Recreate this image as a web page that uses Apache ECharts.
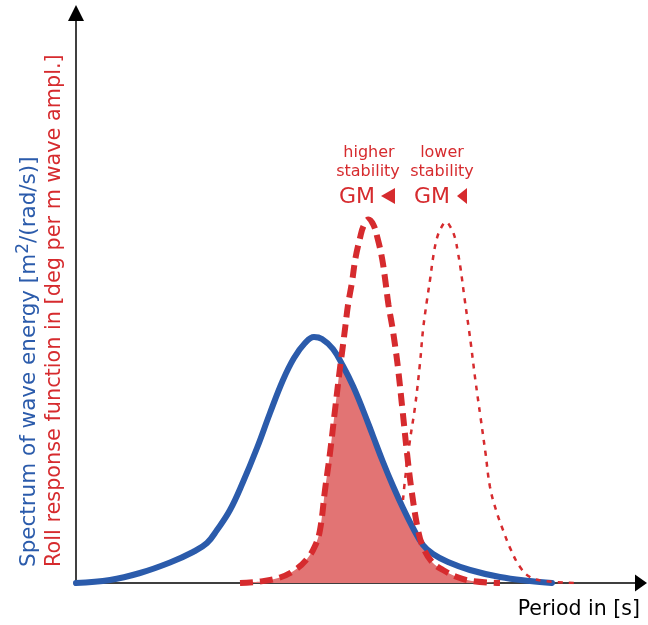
<!DOCTYPE html>
<html>
<head>
<meta charset="utf-8">
<script src="https://cdn.jsdelivr.net/npm/echarts@6/dist/echarts.min.js"></script>
<style>
  html, body { margin: 0; padding: 0; background: #fff; }
  #main { width: 648px; height: 625px; }
</style>
</head>
<body>
<div id="main"></div>
<script type="text/javascript">

	// wave energy spectrum (blue), [period, value]
	var waveSpectrum = [
		[0, 0], [6.8, 0.6], [12.8, 2], [18.8, 4.1], [23.4, 6.2], [26.2, 8],
		[28.2, 10.6], [30.8, 14.6], [33.4, 20.2], [36.2, 27], [38.8, 34],
		[41.4, 40.6], [43.6, 45], [45.8, 48], [47.6, 49.2], [49.2, 48.8],
		[51.4, 46.8], [53.4, 43.4], [55.4, 39.4], [57.4, 34.6], [59.4, 29.4],
		[61.4, 24.2], [63.4, 19.4], [65.4, 15], [67.4, 11], [69.4, 7.6],
		[71.4, 5.8], [74.4, 4.2], [78.8, 2.6], [84.8, 1.2], [90.8, 0.4], [95.2, 0]
	];

	// roll response, higher stability GM (dashed)
	var rollHigh = [
		[32.8, 0], [36.8, 0.3], [40.8, 1.1], [43.8, 2.6], [46.2, 4.8], [47.8, 7.4],
		[48.8, 10.6], [49.8, 18.6], [50.8, 26], [51.8, 34.6], [52.8, 43],
		[53.4, 47.6], [53.9, 51.6], [54.4, 55.6], [55.2, 60.2], [55.9, 65],
		[56.8, 69], [57.5, 71.4], [58.5, 72.7], [59.5, 71.6], [60.3, 69],
		[61.2, 65], [61.9, 60.2], [62.5, 55.6], [63.2, 51.6], [63.8, 47.6],
		[64.4, 43], [65.3, 34.6], [66.2, 26], [67.1, 18.6], [68.4, 10.6],
		[69.4, 7.2], [71.2, 4.2], [73.4, 2.6], [76.2, 1.2], [79.2, 0.4], [84.8, 0]
	];

	// roll response, lower stability GM (dotted)
	var rollLow = [
		[65.4, 16.6], [65.8, 20.6], [66.8, 28.6], [67.8, 35.2], [68.8, 44], [69.4, 50.6],
		[70.2, 56.6], [70.8, 60.6], [71.5, 65.6], [72.2, 69], [73, 71], [74, 72.2],
		[75, 71], [75.8, 69], [76.4, 66], [76.9, 63], [77.7, 57], [78.6, 50.6],
		[79, 47.6], [79.9, 40.4], [80.9, 33.2], [81.9, 26], [82.8, 19.2], [84, 14.6],
		[85.4, 10.6], [87, 6.6], [88.8, 3.2], [90.8, 1.2], [93.8, 0.4], [100.4, 0]
	];

	// overlap of spectrum and response (shaded)
	var overlap = [
		[32.8, 0], [36.8, 0.3], [40.8, 1.1], [43.8, 2.6], [46.2, 4.8], [47.8, 7.4],
		[48.8, 10.6], [49.8, 18.6], [50.8, 26], [51.8, 34.6], [52.8, 43], [53.2, 44.1],
		[55.4, 39.4], [57.4, 34.6], [59.4, 29.4], [61.4, 24.2], [63.4, 19.4],
		[65.4, 15], [67.4, 11], [69, 8], [71.2, 4.2], [73.4, 2.6], [76.2, 1.2],
		[79.2, 0.4], [84.8, 0]
	];

	var blue = '#2b5bab';
	var red = '#d62b2e';
	var font = '"DejaVu Sans", Verdana, sans-serif';

	var chart = echarts.init(document.getElementById('main'));
	chart.setOption({
		animation: false,
		grid: { left: 76, right: 7, top: 13, bottom: 42 },
		xAxis: {
			type: 'value', min: 0, max: 113,
			axisLine: { show: true, onZero: false, symbol: ['none', 'triangle'], symbolSize: [17, 12],
				lineStyle: { color: '#000', width: 1.5 } },
			axisTick: { show: false }, axisLabel: { show: false }, splitLine: { show: false }
		},
		yAxis: {
			type: 'value', min: 0, max: 114,
			axisLine: { show: true, onZero: false, symbol: ['none', 'triangle'], symbolSize: [16, 16],
				lineStyle: { color: '#000', width: 1.5 } },
			axisTick: { show: false }, axisLabel: { show: false }, splitLine: { show: false }
		},
		series: [
			{
				name: 'overlap', type: 'line', data: overlap, smooth: 0.3, symbol: 'none',
				lineStyle: { width: 0 }, areaStyle: { color: '#e27474', opacity: 1 }, z: 1
			},
			{
				name: 'spectrum', type: 'line', data: waveSpectrum, smooth: 0.4, symbol: 'none',
				lineStyle: { color: blue, width: 6, cap: 'round' }, z: 2
			},
			{
				name: 'lower GM', type: 'line', data: rollLow, smooth: 0.4, symbol: 'none',
				lineStyle: { color: red, width: 2.5, type: [5, 6] }, z: 3
			},
			{
				name: 'higher GM', type: 'line', data: rollHigh, smooth: 0.4, symbol: 'none',
				lineStyle: { color: red, width: 6, type: [13, 7] }, z: 4
			}
		],
		graphic: [
			{
				type: 'text', x: 29, y: 567, rotation: Math.PI / 2,
				style: {
					text: 'Spectrum of wave energy [m{sup|2}/(rad/s)]',
					fill: blue, font: '21.5px ' + font, textAlign: 'left', textVerticalAlign: 'middle',
					rich: { sup: { fontSize: 17, fontFamily: 'DejaVu Sans', fill: blue, padding: [0, 0, 10, 0] } }
				}
			},
			{
				type: 'text', x: 55, y: 567, rotation: Math.PI / 2,
				style: {
					text: 'Roll response function in [deg per m wave ampl.]',
					fill: red, font: '20.8px ' + font, textAlign: 'left', textVerticalAlign: 'middle'
				}
			},
			{
				type: 'text', x: 640, y: 610,
				style: { text: 'Period in [s]', fill: '#000', font: '20.5px ' + font, textAlign: 'right', textVerticalAlign: 'middle' }
			},
			{ type: 'text', x: 369, y: 153, style: { text: 'higher', fill: red, font: '16px ' + font, textAlign: 'center', textVerticalAlign: 'middle' } },
			{ type: 'text', x: 368, y: 172, style: { text: 'stability', fill: red, font: '16px ' + font, textAlign: 'center', textVerticalAlign: 'middle' } },
			{ type: 'text', x: 339, y: 197, style: { text: 'GM', fill: red, font: '22px ' + font, textAlign: 'left', textVerticalAlign: 'middle' } },
			{ type: 'polygon', shape: { points: [[381, 196], [395, 188], [395, 204]] }, style: { fill: red } },
			{ type: 'text', x: 442, y: 153, style: { text: 'lower', fill: red, font: '16px ' + font, textAlign: 'center', textVerticalAlign: 'middle' } },
			{ type: 'text', x: 442, y: 172, style: { text: 'stability', fill: red, font: '16px ' + font, textAlign: 'center', textVerticalAlign: 'middle' } },
			{ type: 'text', x: 414, y: 197, style: { text: 'GM', fill: red, font: '22px ' + font, textAlign: 'left', textVerticalAlign: 'middle' } },
			{ type: 'polygon', shape: { points: [[457, 196], [467, 188], [467, 204]] }, style: { fill: red } }
		]
	});

</script>
</body>
</html>
